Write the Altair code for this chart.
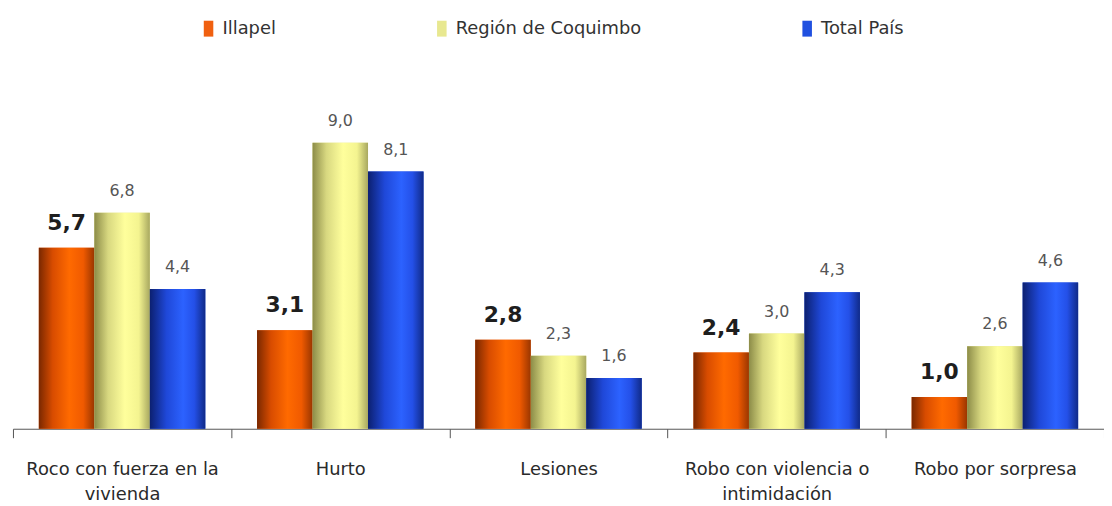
import altair as alt
import pandas as pd

categories = ["Roco con fuerza en la vivienda", "Hurto", "Lesiones",
              "Robo con violencia o intimidación", "Robo por sorpresa"]
series = ["Illapel", "Región de Coquimbo", "Total País"]
illapel = [5.7, 3.1, 2.8, 2.4, 1.0]
coquimbo = [6.8, 9.0, 2.3, 3.0, 2.6]
pais = [4.4, 8.1, 1.6, 4.3, 4.6]
solid_colors = ["#f06010", "#e8e890", "#2050e0"]

rows = []
for vals, s in zip([illapel, coquimbo, pais], series):
    for c, v in zip(categories, vals):
        rows.append({"categoria": c, "serie": s, "valor": v})
df = pd.DataFrame(rows)

gradients = {
    "Illapel": [("#7a2800", 0), ("#d84c00", 0.25), ("#ff6a00", 0.55), ("#f05a00", 0.8), ("#9a3600", 1)],
    "Región de Coquimbo": [("#8c8c48", 0), ("#d8d880", 0.25), ("#ffff9c", 0.55), ("#f4f490", 0.8), ("#a8a860", 1)],
    "Total País": [("#0c2070", 0), ("#1f48d8", 0.3), ("#2c62ff", 0.6), ("#2450e8", 0.8), ("#102a88", 1)],
}

label_expr = ("datum.label == 'Roco con fuerza en la vivienda' ? ['Roco con fuerza en la', 'vivienda'] : "
              "datum.label == 'Robo con violencia o intimidación' ? ['Robo con violencia o', 'intimidación'] : datum.label")

FONT = "DejaVu Sans"

x_enc = alt.X("categoria:N", sort=categories, title=None,
              scale=alt.Scale(paddingInner=0, paddingOuter=0),
              axis=alt.Axis(labelExpr=label_expr, labelAngle=0, labelFontSize=18, labelFont=FONT,
                            labelColor="#2a2a2a", labelPadding=23, labelLineHeight=25,
                            tickSize=9, tickColor="#555555", domainColor="#555555",
                            tickBand="extent", labelLimit=0, grid=False))
xoff = alt.XOffset("serie:N", sort=series,
                   scale=alt.Scale(domain=series, paddingInner=0, paddingOuter=0.466))
y_enc = alt.Y("valor:Q", scale=alt.Scale(domain=[0, 10], nice=False), axis=None)

base = alt.Chart(df).encode(x=x_enc, xOffset=xoff, y=y_enc)

bars = base.mark_bar().encode(
    color=alt.Color("serie:N", sort=series,
                    scale=alt.Scale(domain=series, range=solid_colors),
                    legend=alt.Legend(title=None, orient="none", direction="horizontal",
                                      legendX=188, legendY=-92, labelFont=FONT, labelFontSize=18,
                                      labelColor="#333333", columnPadding=158, labelLimit=0,
                                      symbolType="M-0.6,-1H0.6V1H-0.6Z", symbolSize=256,
                                      symbolStrokeWidth=0, labelOffset=5))
)

layers = [bars]
for s in series:
    grad = {"gradient": "linear", "x1": 0, "x2": 1, "y1": 0, "y2": 0,
            "stops": [{"color": c, "offset": o} for c, o in gradients[s]]}
    layers.append(base.transform_filter(alt.datum.serie == s).mark_bar(color=grad))

texts_bold = base.transform_filter(alt.datum.serie == "Illapel").transform_calculate(
    txt="replace(format(datum.valor, '.1f'), '.', ',')"
).mark_text(baseline="alphabetic", dy=-18, fontSize=22, fontWeight="bold", font=FONT, color="#1e1e1e").encode(
    text="txt:N")
texts_norm = base.transform_filter(alt.datum.serie != "Illapel").transform_calculate(
    txt="replace(format(datum.valor, '.1f'), '.', ',')"
).mark_text(baseline="alphabetic", dy=-17, fontSize=16, font=FONT, color="#555555").encode(
    text="txt:N")

chart = alt.layer(*layers, texts_bold, texts_norm).properties(
    width=1099, height=320,
    autosize=alt.AutoSizeParams(type="none"),
    padding={"left": 5, "top": 102, "right": 0, "bottom": 76},
    background="white",
).configure_view(stroke=None)

chart.save("out.html", embed_options={"renderer": "svg", "actions": False})
